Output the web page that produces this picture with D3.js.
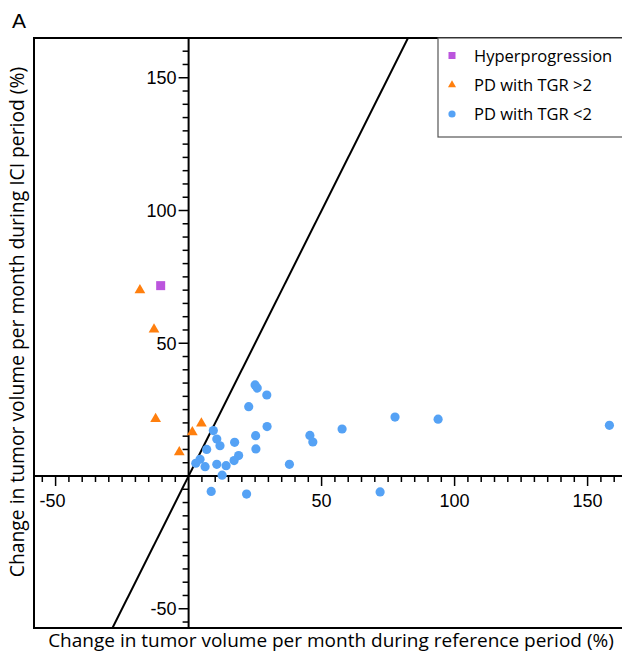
<!DOCTYPE html>
<html><head><meta charset="utf-8">
<script src="https://cdn.jsdelivr.net/npm/d3@7"></script>
<style>body{margin:0;background:#fff}svg{display:block}</style>
</head><body>
<script>
const hyperX = [-10.5];
const hyperY = [71.7];
const tgrHighX = [-18.3, -13.0, -12.4, 4.8, 1.4, -3.5];
const tgrHighY = [70.0, 55.2, 21.5, 19.8, 16.5, 9.0];
const tgrLowX = [25.0, 25.8, 29.4, 22.6, 29.5, 25.2, 25.3, 9.3, 10.6, 11.8, 6.8, 17.3, 18.8, 17.1, 4.3, 2.7, 6.2, 10.6, 14.1, 12.6, 37.9, 8.5, 21.8, 45.6, 46.7, 57.7, 77.6, 93.8, 158.2, 72.0];
const tgrLowY = [34.3, 33.1, 30.5, 26.1, 18.6, 15.2, 10.2, 17.1, 13.9, 11.4, 10.0, 12.7, 7.7, 5.8, 6.3, 4.8, 3.5, 4.4, 3.9, 0.3, 4.4, -5.8, -6.8, 15.3, 12.8, 17.7, 22.2, 21.4, 19.1, -6.0];
const xTicks = [-50, 50, 100, 150];
const yTicks = [-50, 50, 100, 150];
const legendLabels = ["Hyperprogression", "PD with TGR >2", "PD with TGR <2"];
const colors = ["#bb55dd", "#ff7f0e", "#55a2f5"];

const W = 622, H = 655;
const L = 34, T = 38, R = 640, B = 628;
const svg = d3.select("body").append("svg").attr("width", W).attr("height", H);

const kx = 2.66, x0 = 188.6, ky = 2.655, y0 = 476;
const x = d3.scaleLinear().domain([(L - x0) / kx, (R - x0) / kx]).range([L, R]);
const y = d3.scaleLinear().domain([(y0 - B) / ky, (y0 - T) / ky]).range([B, T]);

svg.append("defs").append("clipPath").attr("id", "clip").append("rect")
  .attr("x", L).attr("y", T).attr("width", R - L).attr("height", B - T);

// frame
svg.append("path").attr("d", `M${R},${T}H${L}V${B}H${R}`)
  .attr("fill", "none").attr("stroke", "#000").attr("stroke-width", 2);

// line y = 2x
const yd = y.domain();
svg.append("line").attr("clip-path", "url(#clip)")
  .attr("x1", x(yd[0] / 2)).attr("y1", y(yd[0]))
  .attr("x2", x(yd[1] / 2)).attr("y2", y(yd[1]))
  .attr("stroke", "#000").attr("stroke-width", 2);

// axes through origin
const minorX = d3.range(-55, 165, 5).filter(v => v % 50 !== 0);
const minorY = d3.range(-55, 165, 5).filter(v => v % 50 !== 0);
const xAxis = svg.append("g").attr("transform", `translate(0,${y(0)})`);
xAxis.append("line").attr("x1", L).attr("x2", R).attr("stroke", "#000").attr("stroke-width", 2);
xAxis.selectAll(".mn").data(minorX).join("line")
  .attr("x1", d => x(d)).attr("x2", d => x(d)).attr("y1", 0).attr("y2", 6)
  .attr("stroke", "#000").attr("stroke-width", 1.5);
xAxis.selectAll(".mj").data(xTicks).join("line")
  .attr("x1", d => x(d)).attr("x2", d => x(d)).attr("y1", 0).attr("y2", 10)
  .attr("stroke", "#000").attr("stroke-width", 1.5);
xAxis.selectAll("text").data(xTicks).join("text")
  .attr("x", d => x(d) - (d < 0 ? 3 : 0)).attr("y", 31).attr("text-anchor", "middle")
  .attr("font-family", "Liberation Sans, Arial, sans-serif").attr("font-size", 18)
  .text(d => d);

const yAxis = svg.append("g").attr("transform", `translate(${x(0)},0)`);
yAxis.append("line").attr("y1", T).attr("y2", B).attr("stroke", "#000").attr("stroke-width", 2);
yAxis.selectAll(".mn").data(minorY).join("line")
  .attr("y1", d => y(d)).attr("y2", d => y(d)).attr("x1", 0).attr("x2", -6)
  .attr("stroke", "#000").attr("stroke-width", 1.5);
yAxis.selectAll(".mj").data(yTicks).join("line")
  .attr("y1", d => y(d)).attr("y2", d => y(d)).attr("x1", 0).attr("x2", -10)
  .attr("stroke", "#000").attr("stroke-width", 1.5);
yAxis.selectAll("text").data(yTicks).join("text")
  .attr("x", -12).attr("y", d => y(d) + 6.5).attr("text-anchor", "end")
  .attr("font-family", "Liberation Sans, Arial, sans-serif").attr("font-size", 18)
  .text(d => d);

// points
const g = svg.append("g").attr("clip-path", "url(#clip)");
g.selectAll(".lo").data(tgrLowX.map((v, i) => [v, tgrLowY[i]])).join("circle")
  .attr("cx", d => x(d[0])).attr("cy", d => y(d[1])).attr("r", 4.6).attr("fill", colors[2]);
const tri = d3.symbol().type(d3.symbolTriangle).size(50);
g.selectAll(".hi").data(tgrHighX.map((v, i) => [v, tgrHighY[i]])).join("path")
  .attr("d", tri).attr("transform", d => `translate(${x(d[0])},${y(d[1])})`).attr("fill", colors[1]);
g.selectAll(".hp").data(hyperX.map((v, i) => [v, hyperY[i]])).join("rect")
  .attr("x", d => x(d[0]) - 4.5).attr("y", d => y(d[1]) - 4.5).attr("width", 9).attr("height", 9)
  .attr("fill", colors[0]);

// legend
const lg = svg.append("g");
lg.append("rect").attr("x", 438).attr("y", 38).attr("width", 200).attr("height", 99)
  .attr("fill", "#fff").attr("stroke", "#555").attr("stroke-width", 1.2);
legendLabels.forEach((lab, i) => {
  const cy = 56 + i * 29;
  if (i === 0) lg.append("rect").attr("x", 448.5).attr("y", cy - 4).attr("width", 7).attr("height", 7).attr("fill", colors[0]);
  if (i === 1) lg.append("path").attr("d", d3.symbol().type(d3.symbolTriangle).size(28)).attr("transform", `translate(452,${cy})`).attr("fill", colors[1]);
  if (i === 2) lg.append("circle").attr("cx", 452).attr("cy", cy).attr("r", 3.6).attr("fill", colors[2]);
  lg.append("text").attr("x", 474).attr("y", cy + 6)
    .attr("font-family", "Open Sans, Noto Sans, sans-serif").attr("font-size", 16.5).text(lab);
});

// titles
svg.append("text").attr("x", 12).attr("y", 28).attr("font-family", "Liberation Sans, Arial, sans-serif")
  .attr("font-size", 21).text("A");
svg.append("text").attr("x", 331).attr("y", 647).attr("text-anchor", "middle")
  .attr("font-family", "Open Sans, Noto Sans, sans-serif").attr("font-size", 19)
  .text("Change in tumor volume per month during reference period (%)");
svg.append("text").attr("transform", "translate(24,322) rotate(-90)").attr("text-anchor", "middle")
  .attr("font-family", "Open Sans, Noto Sans, sans-serif").attr("font-size", 19.3)
  .text("Change in tumor volume per month during ICI period (%)");
</script>
</body></html>
